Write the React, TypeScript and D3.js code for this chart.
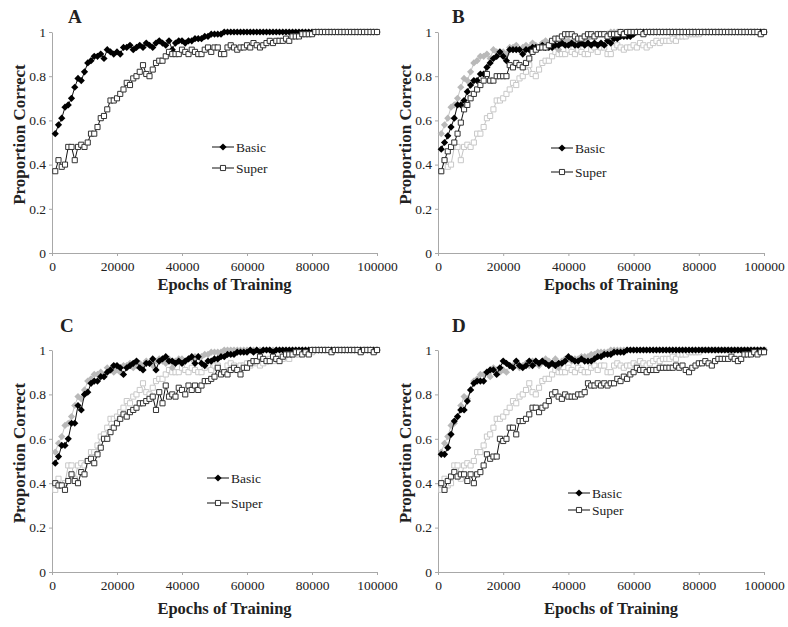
import React, { useRef, useEffect } from 'react';
import * as d3 from 'd3';

// training checkpoints, every 1000 epochs
const epochs = d3.range(1000, 100001, 1000);
const xTicks = [0, 20000, 40000, 60000, 80000, 100000];
const yTicks = [0, 0.2, 0.4, 0.6, 0.8, 1];

const ones = (n: number) => new Array(n).fill(1);

const aBasic = [
    0.54, 0.58, 0.61, 0.66, 0.67, 0.70, 0.75, 0.79, 0.78, 0.82,
    0.86, 0.87, 0.89, 0.89, 0.90, 0.88, 0.92, 0.91, 0.90, 0.91,
    0.90, 0.93, 0.93, 0.94, 0.92, 0.93, 0.94, 0.93, 0.95, 0.94,
    0.93, 0.95, 0.96, 0.95, 0.94, 0.96, 0.92, 0.95, 0.96, 0.96,
    0.95, 0.96, 0.96, 0.97, 0.97, 0.97, 0.98, 0.98, 0.99, 0.99,
    0.99, 0.99, 1, 1, 1, 1, 1, 1, 1, 1,
    ...ones(40)
];
const aSuper = [
    0.37, 0.42, 0.39, 0.40, 0.48, 0.48, 0.42, 0.48, 0.49, 0.48,
    0.50, 0.54, 0.54, 0.57, 0.61, 0.62, 0.65, 0.69, 0.69, 0.70,
    0.72, 0.74, 0.77, 0.76, 0.79, 0.80, 0.82, 0.85, 0.81, 0.80,
    0.83, 0.86, 0.87, 0.87, 0.89, 0.91, 0.90, 0.90, 0.90, 0.92,
    0.91, 0.90, 0.92, 0.91, 0.90, 0.90, 0.92, 0.93, 0.91, 0.93,
    0.93, 0.90, 0.90, 0.93, 0.94, 0.93, 0.92, 0.93, 0.93, 0.94,
    0.93, 0.95, 0.94, 0.93, 0.94, 0.95, 0.96, 0.95, 0.96, 0.96,
    0.96, 0.97, 0.96, 0.98, 0.98, 0.98, 0.99, 0.99, 0.99, 0.99,
    ...ones(20)
];
const bBasic = [
    0.47, 0.50, 0.53, 0.57, 0.61, 0.67, 0.67, 0.69, 0.73, 0.76,
    0.78, 0.78, 0.81, 0.81, 0.84, 0.86, 0.88, 0.89, 0.91, 0.89,
    0.87, 0.92, 0.92, 0.92, 0.92, 0.90, 0.92, 0.92, 0.93, 0.93,
    0.93, 0.94, 0.93, 0.93, 0.93, 0.94, 0.94, 0.95, 0.94, 0.94,
    0.95, 0.94, 0.94, 0.95, 0.94, 0.95, 0.94, 0.95, 0.94, 0.95,
    0.94, 0.96, 0.95, 0.97, 0.97, 0.98, 0.98, 0.98, 0.98, 0.99,
    ...ones(40)
];
const bSuper = [
    0.37, 0.42, 0.46, 0.48, 0.50, 0.54, 0.59, 0.65, 0.67, 0.70,
    0.72, 0.74, 0.76, 0.78, 0.81, 0.78, 0.78, 0.80, 0.80, 0.80,
    0.80, 0.85, 0.84, 0.86, 0.85, 0.84, 0.86, 0.88, 0.91, 0.92,
    0.93, 0.93, 0.93, 0.94, 0.96, 0.97, 0.97, 0.98, 0.99, 0.99,
    0.99, 0.98, 0.97, 0.97, 0.98, 0.99, 0.99, 0.98, 0.99, 0.99,
    0.99, 0.98, 0.99, 0.99, 0.99, 1, 0.99, 1, 1, 1,
    1, 1, 0.99, 1, 1, 1, 1, 1, 1, 1,
    1, 1, 1, 1, 1, 1, 1, 1, 1, 1,
    1, 1, 1, 1, 1, 1, 1, 1, 1, 1,
    1, 1, 1, 1, 1, 1, 1, 1, 0.99, 1
];
const cBasic = [
    0.49, 0.52, 0.57, 0.57, 0.60, 0.67, 0.67, 0.75, 0.73, 0.80,
    0.81, 0.85, 0.86, 0.86, 0.88, 0.88, 0.90, 0.91, 0.93, 0.93,
    0.92, 0.89, 0.92, 0.93, 0.94, 0.95, 0.92, 0.91, 0.94, 0.94,
    0.96, 0.91, 0.95, 0.96, 0.97, 0.95, 0.95, 0.94, 0.95, 0.94,
    0.95, 0.96, 0.97, 0.94, 0.97, 0.94, 0.93, 0.95, 0.95, 0.96,
    0.96, 0.97, 0.97, 0.98, 0.98, 0.98, 0.99, 0.99, 0.99, 0.99,
    1, 0.99, 1, 0.99, 1, 1, 1, 0.99, 1, 1,
    ...ones(30)
];
const cSuper = [
    0.40, 0.39, 0.39, 0.37, 0.41, 0.44, 0.41, 0.40, 0.45, 0.44,
    0.50, 0.51, 0.49, 0.53, 0.56, 0.60, 0.60, 0.63, 0.65, 0.67,
    0.69, 0.71, 0.70, 0.72, 0.73, 0.74, 0.76, 0.76, 0.77, 0.78,
    0.79, 0.73, 0.81, 0.76, 0.84, 0.79, 0.80, 0.79, 0.83, 0.82,
    0.80, 0.84, 0.82, 0.84, 0.82, 0.84, 0.86, 0.86, 0.87, 0.88,
    0.92, 0.89, 0.90, 0.89, 0.91, 0.92, 0.91, 0.89, 0.92, 0.92,
    0.94, 0.95, 0.95, 0.97, 0.96, 0.95, 0.95, 0.97, 0.96, 0.95,
    0.97, 0.98, 0.98, 0.98, 0.99, 0.99, 0.98, 0.99, 0.98, 1,
    1, 1, 1, 1, 1, 0.99, 1, 1, 1, 1,
    1, 1, 1, 1, 0.99, 1, 1, 1, 0.99, 1
];
const dBasic = [
    0.53, 0.53, 0.56, 0.62, 0.68, 0.70, 0.73, 0.73, 0.77, 0.82,
    0.85, 0.86, 0.86, 0.86, 0.90, 0.91, 0.91, 0.89, 0.92, 0.95,
    0.94, 0.93, 0.92, 0.95, 0.93, 0.92, 0.93, 0.95, 0.93, 0.95,
    0.94, 0.95, 0.94, 0.93, 0.94, 0.93, 0.94, 0.94, 0.95, 0.97,
    0.96, 0.95, 0.95, 0.96, 0.95, 0.95, 0.95, 0.96, 0.97, 0.97,
    0.98, 0.98, 0.98, 0.99, 0.99, 0.99, 0.99, 1, 1, 1,
    ...ones(40)
];
const dSuper = [
    0.40, 0.37, 0.41, 0.43, 0.45, 0.43, 0.44, 0.44, 0.41, 0.44,
    0.40, 0.44, 0.45, 0.48, 0.53, 0.51, 0.52, 0.52, 0.60, 0.59,
    0.60, 0.65, 0.65, 0.62, 0.68, 0.68, 0.69, 0.71, 0.74, 0.74,
    0.72, 0.74, 0.75, 0.77, 0.80, 0.81, 0.79, 0.78, 0.80, 0.79,
    0.79, 0.79, 0.80, 0.80, 0.81, 0.85, 0.84, 0.84, 0.85, 0.84,
    0.85, 0.84, 0.85, 0.85, 0.87, 0.86, 0.88, 0.87, 0.89, 0.90,
    0.92, 0.91, 0.91, 0.90, 0.91, 0.91, 0.91, 0.92, 0.92, 0.92,
    0.92, 0.92, 0.93, 0.92, 0.93, 0.91, 0.90, 0.92, 0.93, 0.94,
    0.94, 0.95, 0.94, 0.93, 0.95, 0.96, 0.96, 0.96, 0.96, 0.97,
    0.96, 0.95, 0.96, 0.98, 0.98, 0.98, 0.99, 0.98, 0.99, 0.99
];

const seriesNames = ['Basic', 'Super'];

// layout of the four panels, in page pixels
const panels = [
    { letter: 'A', basic: aBasic, superr: aSuper, grey: false, x0: 52, x1: 377, yTop: 32, yBot: 253, lx: 212, ly: 147, lgap: 21, letterX: 68, letterY: 23, titleDy: 37 },
    { letter: 'B', basic: bBasic, superr: bSuper, grey: true, x0: 438, x1: 764, yTop: 32, yBot: 253, lx: 551, ly: 148, lgap: 24, letterX: 452, letterY: 23, titleDy: 37 },
    { letter: 'C', basic: cBasic, superr: cSuper, grey: true, x0: 52, x1: 377, yTop: 350, yBot: 572, lx: 207, ly: 478, lgap: 25, letterX: 60, letterY: 332, titleDy: 42 },
    { letter: 'D', basic: dBasic, superr: dSuper, grey: true, x0: 438, x1: 764, yTop: 350, yBot: 572, lx: 568, ly: 493, lgap: 17, letterX: 452, letterY: 332, titleDy: 42 },
];

const FONT = "'Liberation Serif', 'Times New Roman', serif";

export default function App() {
    const ref = useRef<SVGSVGElement>(null);

    useEffect(() => {
        if (!ref.current) return;
        const svg = d3.select(ref.current);
        svg.selectAll('*').remove();

        const diamond = d3.symbol(d3.symbolSquare, 26)();
        const square = d3.symbol(d3.symbolSquare, 26)();

        panels.forEach(p => {
            const g = svg.append('g');
            const x = d3.scaleLinear().domain([0, 100000]).range([p.x0, p.x1]);
            const y = d3.scaleLinear().domain([0, 1]).range([p.yBot, p.yTop]);

            // axes
            const yAxis = d3.axisLeft(y).tickValues(yTicks).tickSize(3).tickSizeOuter(0).tickPadding(3)
                .tickFormat(d => String(d));
            const xAxis = d3.axisBottom(x).tickValues(xTicks).tickSize(3).tickSizeOuter(0).tickPadding(5)
                .tickFormat(d => String(d));
            const ya = g.append('g').attr('transform', `translate(${p.x0},0)`).call(yAxis);
            const xa = g.append('g').attr('transform', `translate(0,${p.yBot})`).call(xAxis);
            [ya, xa].forEach(a => {
                a.select('.domain').attr('stroke', '#a8a8a8');
                a.selectAll('line').attr('stroke', '#a8a8a8');
                a.selectAll('text').attr('font-family', FONT).attr('font-size', 13.5).attr('fill', '#222');
            });

            const line = d3.line<number>().x((_, i) => x(epochs[i])).y(d => y(d));

            const drawSeries = (vals: number[], kind: 'basic' | 'super', grey: boolean) => {
                const stroke = grey ? '#c4c4c4' : '#111';
                g.append('path').datum(vals).attr('d', line)
                    .attr('fill', 'none').attr('stroke', stroke).attr('stroke-width', 1);
                g.append('g').selectAll('path').data(vals).enter().append('path')
                    .attr('d', kind === 'basic' ? diamond : square)
                    .attr('transform', (d, i) => `translate(${x(epochs[i])},${y(d)})` + (kind === 'basic' ? ' rotate(45)' : ''))
                    .attr('fill', kind === 'basic' ? (grey ? '#b9b9b9' : '#000') : '#fff')
                    .attr('stroke', kind === 'basic' ? 'none' : (grey ? '#c8c8c8' : '#333'))
                    .attr('stroke-width', 1);
            };

            if (p.grey) {
                drawSeries(aSuper, 'super', true);
                drawSeries(aBasic, 'basic', true);
            }
            drawSeries(p.basic, 'basic', false);
            drawSeries(p.superr, 'super', false);

            // legend
            seriesNames.forEach((name, i) => {
                const ly = p.ly + i * p.lgap;
                const kind = i === 0 ? 'basic' : 'super';
                g.append('line').attr('x1', p.lx).attr('x2', p.lx + 22).attr('y1', ly).attr('y2', ly)
                    .attr('stroke', '#111').attr('stroke-width', 1);
                g.append('path').attr('d', kind === 'basic' ? diamond : square)
                    .attr('transform', `translate(${p.lx + 11},${ly})` + (kind === 'basic' ? ' rotate(45)' : ''))
                    .attr('fill', kind === 'basic' ? '#000' : '#fff')
                    .attr('stroke', kind === 'basic' ? 'none' : '#333');
                g.append('text').attr('x', p.lx + 24).attr('y', ly + 4.5)
                    .attr('font-family', FONT).attr('font-size', 13.5).attr('fill', '#222').text(name);
            });

            // titles
            g.append('text').attr('x', (p.x0 + p.x1) / 2 + 10).attr('y', p.yBot + p.titleDy)
                .attr('text-anchor', 'middle').attr('font-family', FONT).attr('font-weight', 'bold')
                .attr('font-size', 16.5).attr('fill', '#222').text('Epochs of Training');
            const ty = (p.yTop + p.yBot) / 2 - 8;
            g.append('text').attr('transform', `translate(${p.x0 - 27},${ty}) rotate(-90)`)
                .attr('text-anchor', 'middle').attr('font-family', FONT).attr('font-weight', 'bold')
                .attr('font-size', 17).attr('fill', '#222').text('Proportion Correct');
            g.append('text').attr('x', p.letterX).attr('y', p.letterY)
                .attr('font-family', FONT).attr('font-weight', 'bold')
                .attr('font-size', 19).attr('fill', '#222').text(p.letter);
        });
    }, []);

    return (
        <svg ref={ref} width={788} height={627}
            style={{ position: 'absolute', left: 0, top: 0, background: '#fff' }} />
    );
}
